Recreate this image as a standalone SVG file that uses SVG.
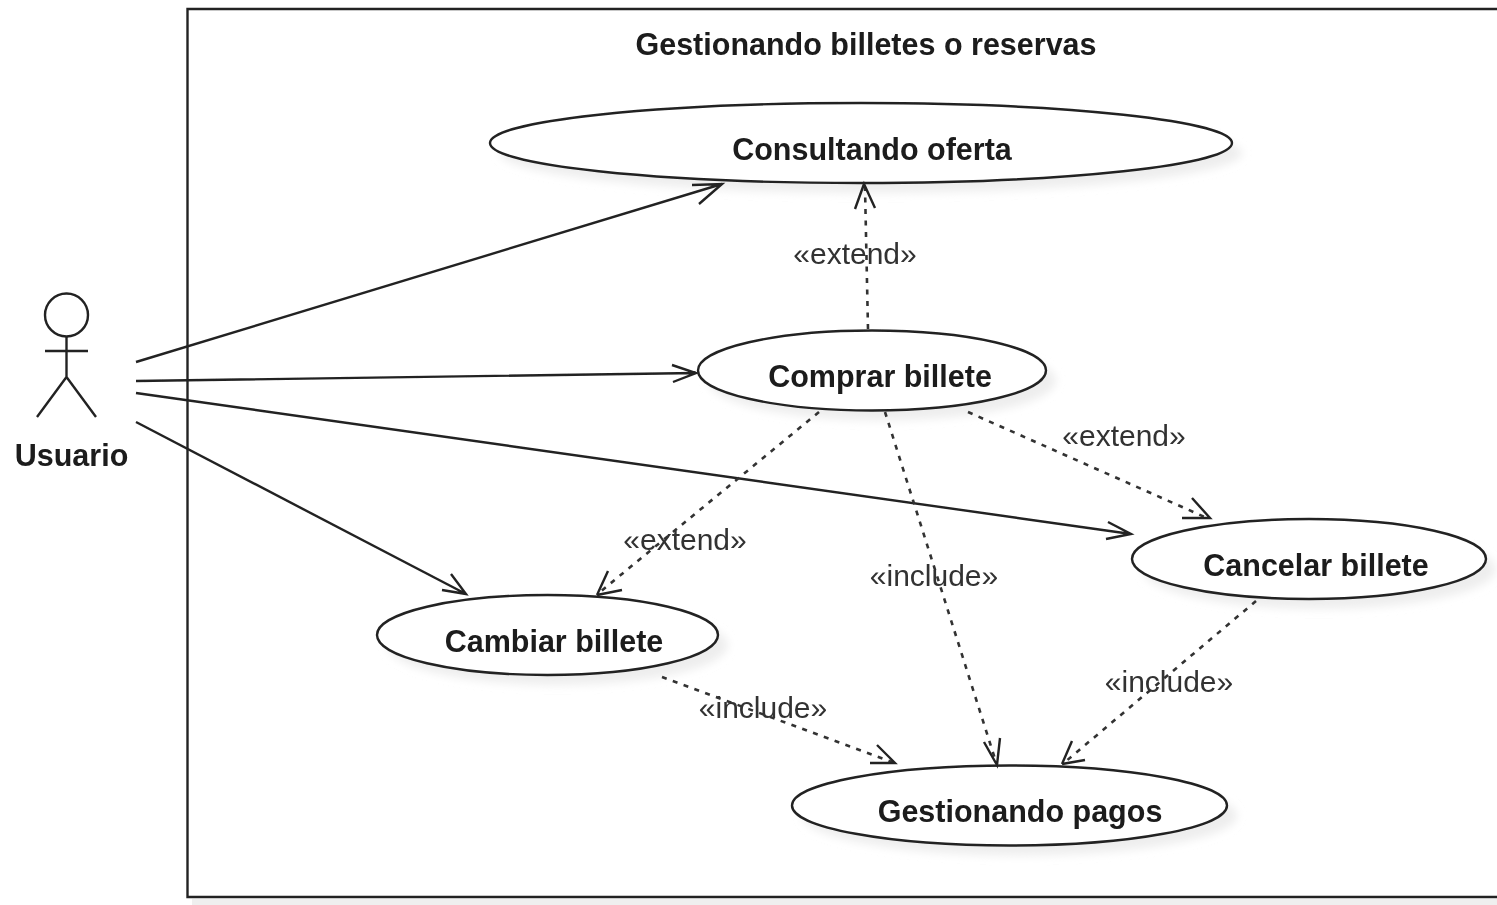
<svg xmlns="http://www.w3.org/2000/svg" width="1497" height="905" viewBox="0 0 1497 905">
<style>
text{font-family:"Liberation Sans",Arial,sans-serif;fill:#1a1a1a}
.b{font-weight:bold;font-size:30.500px}
.l{font-size:30px;fill:#333}
.u{fill:#fff;stroke:#222;stroke-width:2.400}
.s{fill:#eeeeee;stroke:none;filter:url(#blur)}
.c{fill:none;stroke:#222;stroke-width:2.400}
.d{fill:none;stroke:#333;stroke-width:2.600;stroke-dasharray:5 6.500}
.h{fill:none;stroke:#222;stroke-width:2.400}
.a{fill:none;stroke:#222;stroke-width:2.400}
</style>
<defs>
<filter id="blur" x="-10%" y="-30%" width="120%" height="160%"><feGaussianBlur stdDeviation="4"/></filter>
<filter id="soft" x="0" y="0" width="100%" height="100%" filterUnits="userSpaceOnUse"><feGaussianBlur stdDeviation="0.600"/></filter>
</defs>
<rect width="1497" height="905" fill="#fff"/>
<g filter="url(#soft)">
<g id="frame">
<path d="M192 902H1497" stroke="#efefef" stroke-width="6" fill="none"/>
<path class="a" d="M1497 9H187.500V897H1497"/>
<text class="b" x="866" y="54.500" text-anchor="middle">Gestionando billetes o reservas</text>
</g>
<g id="actor-usuario">
<circle class="a" cx="66.500" cy="315" r="21.500"/>
<path class="a" d="M66.500 336.500V377M45 351H88M66.500 377L37 417M66.500 377L96 417"/>
<text class="b" x="71.500" y="466" text-anchor="middle">Usuario</text>
</g>
<g id="uc-consultando">
<ellipse class="s" cx="871" cy="153" rx="371" ry="40"/>
<ellipse class="u" cx="861" cy="143" rx="371" ry="40"/>
<text class="b" x="872" y="159.500" text-anchor="middle">Consultando oferta</text>
</g>
<g id="uc-comprar">
<ellipse class="s" cx="882" cy="380.500" rx="174" ry="40"/>
<ellipse class="u" cx="872" cy="370.500" rx="174" ry="40"/>
<text class="b" x="880" y="386.500" text-anchor="middle">Comprar billete</text>
</g>
<g id="uc-cancelar">
<ellipse class="s" cx="1319" cy="569" rx="177" ry="40"/>
<ellipse class="u" cx="1309" cy="559" rx="177" ry="40"/>
<text class="b" x="1316" y="575.500" text-anchor="middle">Cancelar billete</text>
</g>
<g id="uc-cambiar">
<ellipse class="s" cx="557.500" cy="645" rx="170.500" ry="40"/>
<ellipse class="u" cx="547.500" cy="635" rx="170.500" ry="40"/>
<text class="b" x="554" y="651.500" text-anchor="middle">Cambiar billete</text>
</g>
<g id="uc-pagos">
<ellipse class="s" cx="1019.500" cy="815.500" rx="217.500" ry="40"/>
<ellipse class="u" cx="1009.500" cy="805.500" rx="217.500" ry="40"/>
<text class="b" x="1020" y="821.500" text-anchor="middle">Gestionando pagos</text>
</g>
<g id="connectors">
<path class="c" d="M136 362L722 184M692 185L722 184L699 204"/>
<path class="c" d="M136 381L696 373M672 365L696 373L673 382"/>
<path class="c" d="M136 393L1131 534M1108 522L1131 534L1106 539"/>
<path class="c" d="M136 422L466 594M442 590L466 594L451 574"/>
<path class="d" d="M868 329L865 187"/><path class="h" d="M855 209L864 184L875 208"/>
<path class="d" d="M968 412L1207 518"/><path class="h" d="M1182 518H1210L1192 498"/>
<path class="d" d="M819 412L600 592"/><path class="h" d="M597 595L622 590M597 595L608 571"/>
<path class="d" d="M885 412L996 762"/><path class="h" d="M984 742L997 765L1000 738"/>
<path class="d" d="M1256 601L1065 762"/><path class="h" d="M1062 764L1072 741M1062 764L1085 760"/>
<path class="d" d="M662 677L892 762"/><path class="h" d="M870 763H895L877 745"/>
</g>
<g id="labels">
<text class="l" x="855" y="264" text-anchor="middle">«extend»</text>
<text class="l" x="1124" y="446" text-anchor="middle">«extend»</text>
<text class="l" x="685" y="550" text-anchor="middle">«extend»</text>
<text class="l" x="934" y="586" text-anchor="middle">«include»</text>
<text class="l" x="1169" y="692" text-anchor="middle">«include»</text>
<text class="l" x="763" y="718" text-anchor="middle">«include»</text>
</g>
</g>
</svg>
